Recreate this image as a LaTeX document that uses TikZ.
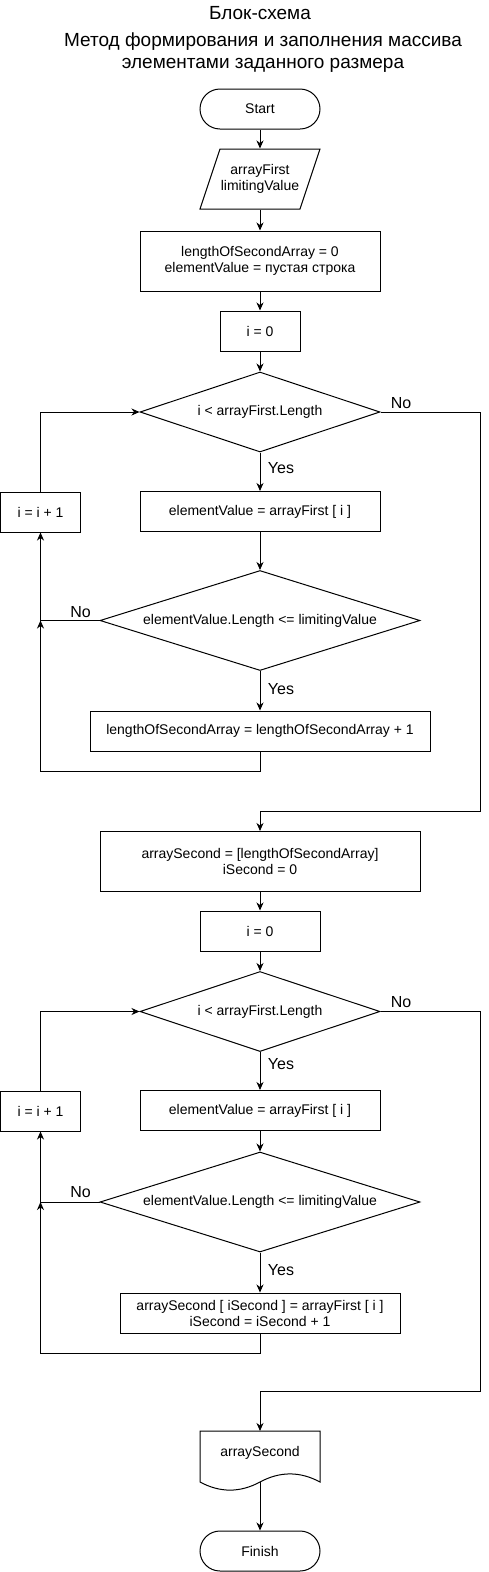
\documentclass[tikz,border=0pt]{standalone}
\usepackage{fontspec}
\setmainfont{Liberation Sans}
\usetikzlibrary{shapes.geometric,arrows.meta}
\tikzset{
  box/.style={draw, rectangle, inner sep=0pt, align=center, font=\fontsize{14}{16}\selectfont},
  term/.style={box, rounded corners=20pt},
  dec/.style={draw, diamond, inner sep=0pt, align=center, font=\fontsize{14}{16}\selectfont},
  txt/.style={inner sep=0pt, align=center, font=\fontsize{14}{16}\selectfont},
  lbl/.style={inner sep=0pt, font=\fontsize{16}{18}\selectfont},
  ttl/.style={inner sep=0pt, align=center, font=\fontsize{19}{22}\selectfont},
  conn/.style={-{Stealth[length=8pt,width=7pt,inset=2.5pt]}},
}
\begin{document}
\begin{tikzpicture}[x=1pt,y=-1pt,line width=1pt]
\useasboundingbox (0,0) rectangle (489,1572);
% titles
\node[ttl] (title) at (260,13) {Блок-схема};
\node[ttl] (subtitle) at (263,53) {Метод формирования и заполнения массива\\элементами заданного размера};
% first part
\node[term, minimum width=120pt, minimum height=40pt] (start) at (260,109) {Start};
\draw (220,149) -- (320,149) -- (300,209) -- (200,209) -- cycle;
\node[txt, minimum width=100pt, minimum height=60pt] (in) at (260,179) {arrayFirst\\limitingValue};
\node[box, minimum width=240pt, minimum height=60pt] (init1) at (260,261) {lengthOfSecondArray = 0\\elementValue = пустая строка};
\node[box, minimum width=80pt, minimum height=40pt] (i01) at (260,331) {i = 0};
\node[dec, aspect=3, minimum width=240pt, minimum height=80pt] (d1) at (260,412) {i < arrayFirst.Length};
\node[box, minimum width=240pt, minimum height=40pt] (ev1) at (260,511.5) {elementValue = arrayFirst [ i ]};
\node[box, minimum width=80pt, minimum height=40pt] (ii1) at (40.5,512) {i = i + 1};
\node[dec, aspect=3.2, minimum width=320pt, minimum height=100pt] (d2) at (260,620.5) {elementValue.Length <= limitingValue};
\node[box, minimum width=340pt, minimum height=40pt] (inc1) at (260,731) {lengthOfSecondArray = lengthOfSecondArray + 1};
% second part
\node[box, minimum width=320pt, minimum height=60pt] (arr) at (260,861.5) {arraySecond = [lengthOfSecondArray]\\iSecond = 0};
\node[box, minimum width=120pt, minimum height=40pt] (i02) at (260,931) {i = 0};
\node[dec, aspect=3, minimum width=240pt, minimum height=80pt] (d3) at (260,1011.5) {i < arrayFirst.Length};
\node[box, minimum width=240pt, minimum height=40pt] (ev2) at (260,1110.5) {elementValue = arrayFirst [ i ]};
\node[box, minimum width=80pt, minimum height=40pt] (ii2) at (40.5,1111) {i = i + 1};
\node[dec, aspect=3.2, minimum width=320pt, minimum height=100pt] (d4) at (260,1202) {elementValue.Length <= limitingValue};
\node[box, minimum width=280pt, minimum height=40pt] (as) at (260,1313) {arraySecond [ iSecond ] = arrayFirst [ i ]\\iSecond = iSecond + 1};
% document
\draw (200,1431) -- (320,1431) -- (320,1482)
  .. controls (300,1471.2) and (280,1471.2) .. (260,1482)
  .. controls (240,1492.8) and (220,1492.8) .. (200,1482) -- cycle;
\node[txt] (doc) at (260,1453) {arraySecond};
\coordinate (doctop) at (260,1431);
\coordinate (docbot) at (260,1482);
\node[term, minimum width=120pt, minimum height=40pt] (finish) at (260,1551) {Finish};
% helper coordinates
\coordinate (j1) at (ii1.south |- d2.west);
\coordinate (j2) at (ii2.south |- d4.west);
\coordinate (r1) at (480,811);
\coordinate (r2) at (480,1391);
% connectors part 1
\draw[conn] (start.south) -- (in.north);
\draw[conn] (in.south) -- (init1.north);
\draw[conn] (init1.south) -- (i01.north);
\draw[conn] (i01.south) -- (d1.north);
\draw[conn] (d1.south) -- (ev1.north);
\draw[conn] (ev1.south) -- (d2.north);
\draw[conn] (d2.south) -- (inc1.north);
\draw[conn] (inc1.south) -- ++(0,20) -| (j1);
\draw[conn] (d2.west) -- (j1) -- (ii1.south);
\draw[conn] (ii1.north) |- (d1.west);
\draw[conn] (d1.east) -| (r1) -| (arr.north);
% connectors part 2
\draw[conn] (arr.south) -- (i02.north);
\draw[conn] (i02.south) -- (d3.north);
\draw[conn] (d3.south) -- (ev2.north);
\draw[conn] (ev2.south) -- (d4.north);
\draw[conn] (d4.south) -- (as.north);
\draw[conn] (as.south) -- ++(0,20) -| (j2);
\draw[conn] (d4.west) -- (j2) -- (ii2.south);
\draw[conn] (ii2.north) |- (d3.west);
\draw[conn] (d3.east) -| (r2) -| (doctop);
\draw[conn] (docbot) -- (finish.north);
% labels
\node[lbl] (y1) at (281,468) {Yes};
\node[lbl] (y2) at (281,689) {Yes};
\node[lbl] (y3) at (281,1064) {Yes};
\node[lbl] (y4) at (281,1270) {Yes};
\node[lbl] (n1) at (401,403) {No};
\node[lbl] (n2) at (80.5,612) {No};
\node[lbl] (n3) at (401,1002) {No};
\node[lbl] (n4) at (80.5,1192) {No};
\end{tikzpicture}
\end{document}
